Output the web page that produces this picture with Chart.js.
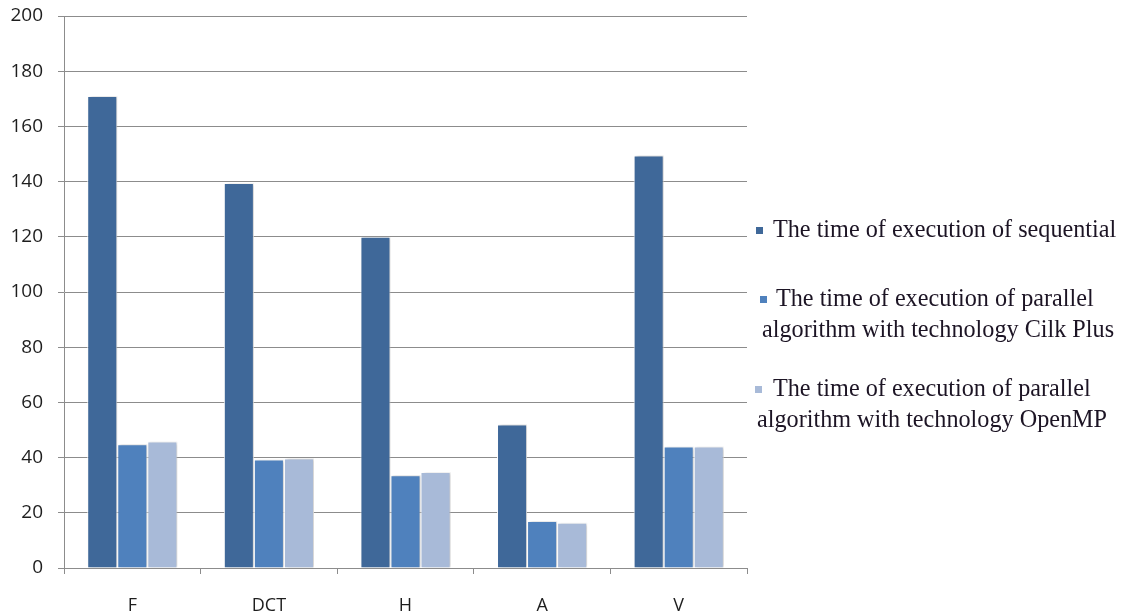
<!DOCTYPE html>
<html>
<head>
<meta charset="utf-8">
<script src="https://cdn.jsdelivr.net/npm/chart.js@4.4.1/dist/chart.umd.min.js"></script>
<style>
  html, body { margin: 0; padding: 0; background: #ffffff; }
  #wrap { position: relative; width: 1121px; height: 614px; }
</style>
</head>
<body>
<div id="wrap"><canvas id="chart" width="1121" height="614"></canvas></div>
<script>
// Benchmarks on the category axis
const categories = ['F', 'DCT', 'H', 'A', 'V'];

// Execution times per benchmark
const sequentialTimes = [171, 139.5, 120, 52, 149.5];
const cilkPlusTimes = [44.8, 39.3, 33.6, 17, 44];
const openMPTimes = [45.8, 39.7, 34.8, 16.4, 44];

// Legend labels, one array of lines per series
const seriesLabels = [
  ['The time of execution of sequential'],
  ['The time of execution of parallel', 'algorithm with technology Cilk Plus'],
  ['The time of execution of parallel', 'algorithm with technology OpenMP']
];

// Value axis ticks
const yTicks = [0, 20, 40, 60, 80, 100, 120, 140, 160, 180, 200];

const seriesColors = ['#3F6899', '#4F81BD', '#A8BAD8'];
const gridColor = '#8c8c8c';

// Soft drop shadow behind the bars
const barShadow = {
  id: 'barShadow',
  beforeDatasetsDraw(chart) {
    const ctx = chart.ctx;
    ctx.save();
    ctx.shadowColor = 'rgba(0,0,0,0.22)';
    ctx.shadowBlur = 3;
    ctx.shadowOffsetX = 2;
    ctx.shadowOffsetY = 0;
  },
  afterDatasetsDraw(chart) {
    chart.ctx.restore();
  }
};

// Legend on the right with wrapped, serif labels
const sideLegend = {
  id: 'sideLegend',
  afterDraw(chart) {
    const ctx = chart.ctx;
    const left = chart.chartArea.right;
    const items = [
      { box: [9, 227], text: [[26, 231]] },
      { box: [13, 296], text: [[29, 300], [15, 331]] },
      { box: [8, 386], text: [[26, 390], [10, 421]] }
    ];
    ctx.save();
    ctx.font = '24.2px "Liberation Serif", "Times New Roman", serif';
    ctx.textBaseline = 'middle';
    ctx.textAlign = 'left';
    chart.data.datasets.forEach((ds, i) => {
      const it = items[i];
      ctx.fillStyle = ds.backgroundColor;
      ctx.fillRect(left + it.box[0], it.box[1], 7, 7);
      ctx.fillStyle = '#1c1424';
      seriesLabels[i].forEach((line, j) => {
        ctx.fillText(line, left + it.text[j][0], it.text[j][1]);
      });
    });
    ctx.restore();
  }
};

const makeSet = (idx, values) => ({
  label: seriesLabels[idx].join(' '),
  data: values,
  backgroundColor: seriesColors[idx],
  borderColor: 'rgba(255,255,255,0.95)',
  borderWidth: 1,
  barPercentage: 1.0,
  categoryPercentage: 0.66
});

new Chart(document.getElementById('chart'), {
  type: 'bar',
  data: {
    labels: categories,
    datasets: [
      makeSet(0, sequentialTimes),
      makeSet(1, cilkPlusTimes),
      makeSet(2, openMPTimes)
    ]
  },
  options: {
    responsive: false,
    animation: false,
    devicePixelRatio: 1,
    layout: { padding: { top: 16, right: 374, left: 0, bottom: 0 } },
    plugins: {
      legend: { display: false },
      tooltip: { enabled: false }
    },
    scales: {
      x: {
        grid: {
          display: true,
          drawOnChartArea: false,
          drawTicks: true,
          tickLength: 6,
          color: gridColor,
          offset: true
        },
        border: { display: true, color: gridColor, width: 1 },
        ticks: {
          color: '#1e1e1e',
          padding: 21,
          font: { family: '"Open Sans", sans-serif', size: 18 }
        },
        afterFit(scale) {
          scale.height = 46;
          scale.paddingLeft = 0;
          scale.paddingRight = 0;
        }
      },
      y: {
        min: yTicks[0],
        max: yTicks[yTicks.length - 1],
        afterBuildTicks(scale) { scale.ticks = yTicks.map(v => ({ value: v })); },
        grid: {
          color: gridColor,
          lineWidth: 1,
          drawTicks: true,
          tickLength: 6
        },
        border: { display: true, color: gridColor, width: 1 },
        ticks: {
          color: '#1e1e1e',
          padding: 15,
          font: { family: '"Open Sans", sans-serif', size: 19 }
        },
        afterFit(scale) {
          scale.width = 64;
          scale.paddingTop = 0;
          scale.paddingBottom = 0;
        }
      }
    }
  },
  plugins: [barShadow, sideLegend]
});
</script>
</body>
</html>
